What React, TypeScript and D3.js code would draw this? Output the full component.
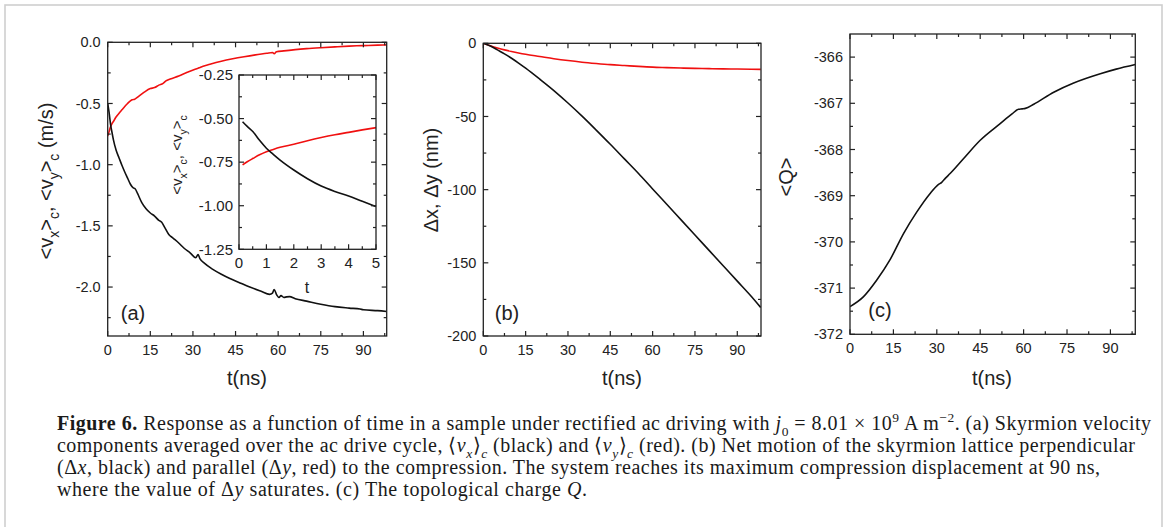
import React from "react";
import * as d3 from "d3";

// ---------- DATA ----------
// (a) main panel: <v_x>_c (black)
const vxT = [0, 0.5, 1, 1.5, 2, 3, 4, 5, 6, 7, 8, 9, 9.6, 10.5, 12, 13.5, 15, 16.5, 18, 19, 20, 21.5, 23, 25, 27, 29, 31, 31.8, 32.5, 34, 37, 40, 43, 46, 50, 54, 57, 58, 58.6, 59.5, 60.3, 61, 62, 63, 64, 66, 70, 75, 80, 85, 88.8, 90, 95, 98.2];
const vxV = [-0.5, -0.575, -0.67, -0.735, -0.795, -0.885, -0.945, -1.005, -1.06, -1.11, -1.16, -1.19, -1.195, -1.235, -1.31, -1.36, -1.395, -1.42, -1.455, -1.47, -1.51, -1.57, -1.6, -1.64, -1.685, -1.72, -1.76, -1.735, -1.77, -1.805, -1.855, -1.895, -1.93, -1.96, -2.0, -2.035, -2.06, -2.05, -2.02, -2.065, -2.085, -2.07, -2.085, -2.08, -2.078, -2.095, -2.115, -2.14, -2.16, -2.172, -2.18, -2.185, -2.193, -2.2];
// (a) main panel: <v_y>_c (red)
const vyT = [0, 0.5, 1, 1.5, 2, 3, 4, 5, 6, 7, 8, 8.6, 9.5, 11, 13, 15, 16.5, 18, 19.5, 20.5, 22, 25, 28, 31, 31.8, 32.5, 36, 40, 44, 48, 52, 56, 58, 58.6, 59.4, 62, 66, 70, 75, 80, 85, 90, 95, 98.2];
const vyV = [-0.765, -0.73, -0.69, -0.665, -0.647, -0.609, -0.579, -0.552, -0.525, -0.5, -0.478, -0.47, -0.465, -0.44, -0.405, -0.378, -0.37, -0.35, -0.335, -0.315, -0.3, -0.275, -0.245, -0.218, -0.212, -0.205, -0.18, -0.155, -0.135, -0.118, -0.103, -0.09, -0.083, -0.093, -0.078, -0.07, -0.06, -0.052, -0.044, -0.037, -0.031, -0.027, -0.023, -0.021];
// (a) inset
const insT = [0.13, 0.3, 0.52, 0.75, 1.0, 1.25, 1.5, 2.0, 2.5, 3.0, 3.5, 4.0, 4.5, 5.0];
const insVx = [-0.518, -0.545, -0.577, -0.625, -0.67, -0.705, -0.738, -0.795, -0.845, -0.887, -0.918, -0.944, -0.975, -1.005];
const insVy = [-0.766, -0.748, -0.728, -0.708, -0.69, -0.677, -0.665, -0.647, -0.627, -0.609, -0.593, -0.579, -0.565, -0.552];
// (b) displacements
const dT = [0, 2.5, 5, 7.5, 10, 12.5, 15, 20, 25, 30, 35, 40, 45, 50, 55, 60, 65, 70, 75, 80, 85, 90, 95, 98.3];
const dxV = [0, -1.8, -4.5, -7.2, -10.2, -13.5, -17, -24.5, -32.3, -40.8, -49.8, -59.3, -69, -79, -89, -99.5, -110, -120.5, -131, -141.5, -152, -162.5, -173, -180.5];
const dyV = [0, -1.7, -3.2, -4.5, -5.6, -6.6, -7.5, -9.0, -10.5, -11.8, -12.9, -13.8, -14.6, -15.2, -15.8, -16.3, -16.6, -16.9, -17.1, -17.3, -17.5, -17.6, -17.7, -17.8];
// (c) topological charge
const qT = [0, 4.6, 9.2, 13.8, 18.5, 23.1, 27.7, 30.5, 31.7, 33, 34.6, 39.2, 45, 51.9, 56, 58.2, 59.5, 60.6, 63.5, 70.4, 77.3, 86.5, 92, 98.6];
const qV = [-371.4, -371.19, -370.83, -370.39, -369.82, -369.35, -368.95, -368.76, -368.71, -368.62, -368.52, -368.2, -367.8, -367.44, -367.23, -367.13, -367.12, -367.11, -367.02, -366.76, -366.56, -366.36, -366.26, -366.16];

// ticks
const tMajor = [0, 15, 30, 45, 60, 75, 90];
const tMinor = [7.5, 22.5, 37.5, 52.5, 67.5, 82.5, 97.5];
const aMajor = [0, -0.5, -1, -1.5, -2];
const aLabels = ["0.0", "-0.5", "-1.0", "-1.5", "-2.0"];
const aMinor = [-0.25, -0.75, -1.25, -1.75, -2.25];
const iXMajor = [0, 1, 2, 3, 4, 5];
const iXMinor = [0.5, 1.5, 2.5, 3.5, 4.5];
const iYMajor = [-0.25, -0.5, -0.75, -1, -1.25];
const iYLabels = ["-0.25", "-0.50", "-0.75", "-1.00", "-1.25"];
const iYMinor = [-0.375, -0.625, -0.875, -1.125];
const bMajor = [0, -50, -100, -150, -200];
const bLabels = ["0", "-50", "-100", "-150", "-200"];
const bMinor = [-25, -75, -125, -175];
const cMajor = [-366, -367, -368, -369, -370, -371, -372];
const cLabels = ["-366", "-367", "-368", "-369", "-370", "-371", "-372"];
const cMinor = [-366.5, -367.5, -368.5, -369.5, -370.5, -371.5];

type Seg = { t: string; s?: "sub" | "sup"; i?: boolean; b?: boolean };

const capLines: Seg[][] = [
  [
    { t: "Figure 6.", b: true },
    { t: " Response as a function of time in a sample under rectified ac driving with " },
    { t: "j", i: true },
    { t: "0", s: "sub" },
    { t: " = 8.01 × 10" },
    { t: "9", s: "sup" },
    { t: " A m" },
    { t: "−2", s: "sup" },
    { t: ". (a) Skyrmion velocity" },
  ],
  [
    { t: "components averaged over the ac drive cycle, ⟨" },
    { t: "v", i: true },
    { t: "x", s: "sub", i: true },
    { t: "⟩" },
    { t: "c", s: "sub", i: true },
    { t: " (black) and ⟨" },
    { t: "v", i: true },
    { t: "y", s: "sub", i: true },
    { t: "⟩" },
    { t: "c", s: "sub", i: true },
    { t: " (red). (b) Net motion of the skyrmion lattice perpendicular" },
  ],
  [
    { t: "(Δ" },
    { t: "x", i: true },
    { t: ", black) and parallel (Δ" },
    { t: "y", i: true },
    { t: ", red) to the compression. The system reaches its maximum compression displacement at 90 ns," },
  ],
  [
    { t: "where the value of Δ" },
    { t: "y", i: true },
    { t: " saturates. (c) The topological charge " },
    { t: "Q", i: true },
    { t: "." },
  ],
];
const capWidths = [1094, 1078, 1043, 530];

const yLabA: Seg[] = [
  { t: "<v" }, { t: "x", s: "sub" }, { t: ">" }, { t: "c", s: "sub" }, { t: ", <v" }, { t: "y", s: "sub" }, { t: ">" }, { t: "c", s: "sub" }, { t: " (m/s)" },
];
const yLabInset: Seg[] = [
  { t: "<v" }, { t: "x", s: "sub" }, { t: ">" }, { t: "c", s: "sub" }, { t: ", <v" }, { t: "y", s: "sub" }, { t: ">" }, { t: "c", s: "sub" },
];

// ---------- HELPERS ----------
const SANS = "Liberation Sans, Arial, Helvetica, sans-serif";
const SERIF = "Liberation Serif, Times New Roman, Times, serif";
const INK = "#222";

function rich(segs: Seg[], fs: number, subFs: number) {
  let cur = 0;
  return segs.map((g, k) => {
    const target = g.s === "sub" ? fs * 0.3 : g.s === "sup" ? -fs * 0.38 : 0;
    const dy = target - cur;
    cur = target;
    return (
      <tspan
        key={k}
        dy={dy}
        fontSize={g.s ? subFs : fs}
        fontStyle={g.i ? "italic" : undefined}
        fontWeight={g.b ? "bold" : undefined}
      >
        {g.t}
      </tspan>
    );
  });
}

function Frame(props: {
  xs: d3.ScaleLinear<number, number>;
  ys: d3.ScaleLinear<number, number>;
  xMaj: number[];
  xMin: number[];
  yMaj: number[];
  yMin: number[];
  yLab: string[];
  xLab?: string[];
  maj: number;
  min: number;
  fs: number;
  xGap: number;
  yGap: number;
}) {
  const { xs, ys, xMaj, xMin, yMaj, yMin, yLab, maj, min, fs, xGap, yGap } = props;
  const xLab = props.xLab || xMaj.map(String);
  const [xa, xb] = xs.range();
  const [yb, ya] = ys.range();
  const st = { stroke: INK, strokeWidth: 1.2 };
  const els: any[] = [];
  xMaj.forEach((v, i) => {
    const x = xs(v);
    els.push(<line key={"xm" + i} x1={x} x2={x} y1={yb} y2={yb - maj} {...st} />);
    els.push(<line key={"xmt" + i} x1={x} x2={x} y1={ya} y2={ya + maj} {...st} />);
    els.push(
      <text key={"xl" + i} x={x} y={yb + xGap} textAnchor="middle" fontSize={fs} fontFamily={SANS} fill={INK}>
        {xLab[i]}
      </text>
    );
  });
  xMin.forEach((v, i) => {
    const x = xs(v);
    els.push(<line key={"xn" + i} x1={x} x2={x} y1={yb} y2={yb - min} {...st} />);
    els.push(<line key={"xnt" + i} x1={x} x2={x} y1={ya} y2={ya + min} {...st} />);
  });
  yMaj.forEach((v, i) => {
    const y = ys(v);
    els.push(<line key={"ym" + i} x1={xa} x2={xa + maj} y1={y} y2={y} {...st} />);
    els.push(<line key={"ymr" + i} x1={xb} x2={xb - maj} y1={y} y2={y} {...st} />);
    els.push(
      <text key={"yl" + i} x={xa - yGap} y={y} dy="0.35em" textAnchor="end" fontSize={fs} fontFamily={SANS} fill={INK}>
        {yLab[i]}
      </text>
    );
  });
  yMin.forEach((v, i) => {
    const y = ys(v);
    els.push(<line key={"yn" + i} x1={xa} x2={xa + min} y1={y} y2={y} {...st} />);
    els.push(<line key={"ynr" + i} x1={xb} x2={xb - min} y1={y} y2={y} {...st} />);
  });
  els.push(
    <rect key="fr" x={xa} y={ya} width={xb - xa} height={yb - ya} fill="none" stroke={INK} strokeWidth={1.3} />
  );
  return <g>{els}</g>;
}

function path(xs: any, ys: any, t: number[], v: number[]) {
  const pts = t.map((d, i) => [d, v[i]] as [number, number]);
  return (
    d3
      .line<[number, number]>()
      .x((d) => xs(d[0]))
      .y((d) => ys(d[1]))
      .curve(d3.curveMonotoneX)(pts) || ""
  );
}

export default function App() {
  const xA = d3.scaleLinear().domain([0, 98.2]).range([107.7, 386.7]);
  const yA = d3.scaleLinear().domain([-2.4, 0]).range([336, 42.3]);
  const xI = d3.scaleLinear().domain([0, 5]).range([239, 376]);
  const yI = d3.scaleLinear().domain([-1.25, -0.25]).range([249.3, 75]);
  const xB = d3.scaleLinear().domain([0, 98.4]).range([483.3, 761]);
  const yB = d3.scaleLinear().domain([-200, 0]).range([336, 43.3]);
  const xC = d3.scaleLinear().domain([0, 98.6]).range([850, 1135.3]);
  const yC = d3.scaleLinear().domain([-372, -365.5]).range([334.3, 34]);

  const lineW = 1.6;
  const RED = "#f01010";
  const BLK = "#111";

  return (
    <svg
      width={1165}
      height={527}
      style={{ position: "absolute", left: 0, top: 0, background: "#fff" }}
      xmlns="http://www.w3.org/2000/svg"
    >
      <rect x={0} y={0} width={1165} height={527} fill="#fff" />
      <rect x={5} y={5} width={1157} height={600} fill="none" stroke="#cfcfcf" strokeWidth={1.6} />

      <defs>
        <clipPath id="clipA">
          <rect x={107.7} y={42.3} width={279} height={293.7} />
        </clipPath>
        <clipPath id="clipB">
          <rect x={483.3} y={43.3} width={277.7} height={292.7} />
        </clipPath>
        <clipPath id="clipC">
          <rect x={850} y={34} width={285.3} height={300.3} />
        </clipPath>
      </defs>

      {/* Panel (a) */}
      <g clipPath="url(#clipA)">
        <path d={path(xA, yA, vyT, vyV)} fill="none" stroke={RED} strokeWidth={lineW} />
        <path d={path(xA, yA, vxT, vxV)} fill="none" stroke={BLK} strokeWidth={lineW} />
      </g>
      <Frame xs={xA} ys={yA} xMaj={tMajor} xMin={tMinor} yMaj={aMajor} yMin={aMinor} yLab={aLabels} maj={5} min={3} fs={14.5} xGap={19} yGap={7} />
      <text x={133} y={313} dy="0.35em" textAnchor="middle" fontSize={20} fontFamily={SANS} fill={INK}>(a)</text>
      <text x={247} y={385} textAnchor="middle" fontSize={20} fontFamily={SANS} fill={INK}>t(ns)</text>
      <text transform="translate(53,181) rotate(-90)" textAnchor="middle" fontFamily={SANS} fill={INK} style={{ whiteSpace: "pre" }}>
        {rich(yLabA, 20, 14)}
      </text>

      {/* inset */}
      <rect x={239} y={75} width={137} height={174.3} fill="#fff" />
      <path d={path(xI, yI, insT, insVy)} fill="none" stroke={RED} strokeWidth={lineW} />
      <path d={path(xI, yI, insT, insVx)} fill="none" stroke={BLK} strokeWidth={lineW} />
      <Frame xs={xI} ys={yI} xMaj={iXMajor} xMin={iXMinor} yMaj={iYMajor} yMin={iYMinor} yLab={iYLabels} maj={5} min={3} fs={15} xGap={19} yGap={6} />
      <text x={307} y={293} textAnchor="middle" fontSize={16} fontFamily={SANS} fill={INK}>t</text>
      <text transform="translate(182,155) rotate(-90)" textAnchor="middle" fontFamily={SANS} fill={INK} style={{ whiteSpace: "pre" }}>
        {rich(yLabInset, 15, 10.5)}
      </text>

      {/* Panel (b) */}
      <g clipPath="url(#clipB)">
        <path d={path(xB, yB, dT, dyV)} fill="none" stroke={RED} strokeWidth={lineW} />
        <path d={path(xB, yB, dT, dxV)} fill="none" stroke={BLK} strokeWidth={lineW} />
      </g>
      <Frame xs={xB} ys={yB} xMaj={tMajor} xMin={tMinor} yMaj={bMajor} yMin={bMinor} yLab={bLabels} maj={5} min={3} fs={14.5} xGap={19} yGap={7} />
      <text x={507} y={313} dy="0.35em" textAnchor="middle" fontSize={20} fontFamily={SANS} fill={INK}>(b)</text>
      <text x={622} y={385} textAnchor="middle" fontSize={20} fontFamily={SANS} fill={INK}>t(ns)</text>
      <text transform="translate(438,180) rotate(-90)" textAnchor="middle" fontSize={20} fontFamily={SANS} fill={INK} style={{ whiteSpace: "pre" }}>
        Δx, Δy (nm)
      </text>

      {/* Panel (c) */}
      <g clipPath="url(#clipC)">
        <path d={path(xC, yC, qT, qV)} fill="none" stroke={BLK} strokeWidth={lineW} />
      </g>
      <Frame xs={xC} ys={yC} xMaj={tMajor} xMin={tMinor} yMaj={cMajor} yMin={cMinor} yLab={cLabels} maj={5} min={3} fs={14.5} xGap={19} yGap={7} />
      <text x={880} y={310} dy="0.35em" textAnchor="middle" fontSize={20} fontFamily={SANS} fill={INK}>(c)</text>
      <text x={992} y={385} textAnchor="middle" fontSize={20} fontFamily={SANS} fill={INK}>t(ns)</text>
      <text transform="translate(793,177) rotate(-90)" textAnchor="middle" fontSize={20} fontFamily={SANS} fill={INK}>
        {"<Q>"}
      </text>

      {/* caption */}
      {capLines.map((segs, i) => (
        <text
          key={i}
          x={57}
          y={430 + i * 22}
          fontFamily={SERIF}
          fontSize={20}
          fill="#1a1a1a"
          textLength={capWidths[i]}
          lengthAdjust="spacing"
          style={{ whiteSpace: "pre" }}
        >
          {rich(segs, 20, 13.5)}
        </text>
      ))}
    </svg>
  );
}
